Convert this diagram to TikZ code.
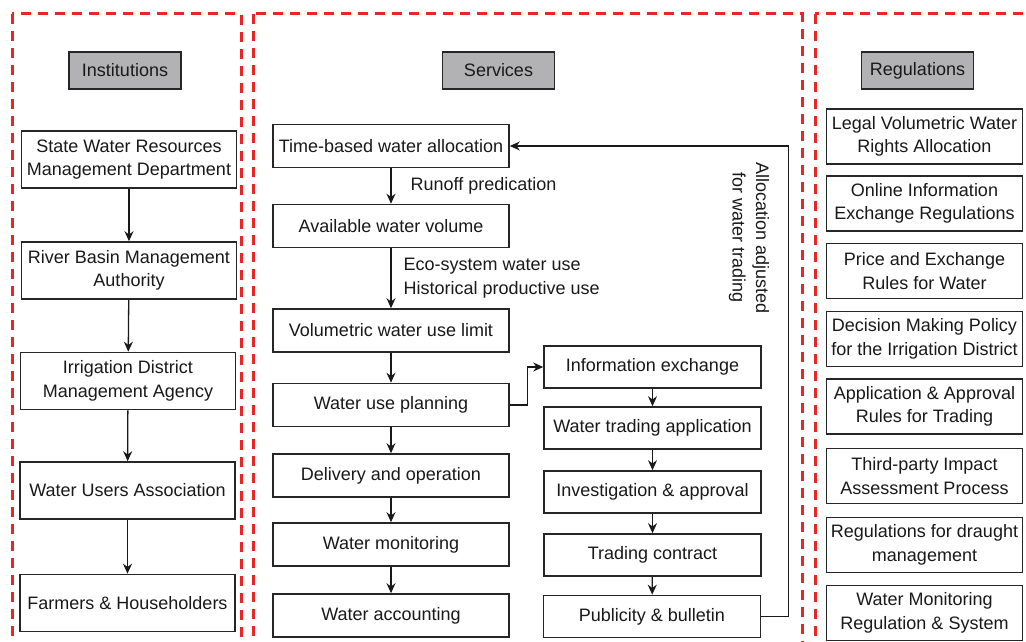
\documentclass[tikz,border=0pt]{standalone}
\usepackage{fontspec}
\setmainfont{Liberation Sans}
\usetikzlibrary{arrows.meta}
\definecolor{regionred}{RGB}{232,38,38}
\definecolor{headgray}{RGB}{178,178,180}
\newcommand{\boxfont}{\fontsize{18}{23.5}\selectfont}
\tikzset{
  region/.style={draw=regionred, line width=3pt, dash pattern=on 10pt off 7pt},
  box/.style={draw=black!85, line width=1.6pt, fill=white, align=center,
              inner sep=0.5pt, font=\boxfont, text=black!90},
  instbox/.style={box, minimum width=215pt, minimum height=57pt},
  servbox/.style={box, minimum width=236pt, minimum height=43pt},
  tradebox/.style={box, minimum width=217pt, minimum height=42pt},
  regbox/.style={box, minimum width=196pt, minimum height=55pt},
  headbox/.style={box, fill=headgray, minimum width=112pt, minimum height=37pt},
  arr/.style={-{Stealth[length=10pt,width=9pt]}, line width=1.3pt, draw=black!90},
  note/.style={font=\boxfont, text=black!90, inner sep=0pt}
}
\begin{document}
\begin{tikzpicture}[x=1pt, y=-1pt]
\useasboundingbox (0,0) rectangle (1026,642);

% dashed column frames
\begin{scope}
  \clip (0,0) rectangle (1026,642);
  \draw[region] (12,14) rectangle (241,670);
  \draw[region] (253,14) rectangle (802,670);
  \draw[region] (815,14) rectangle (1045,670);
\end{scope}

% column headings
\node[headbox] (hInst) at (125,70.5) {Institutions};
\node[headbox] (hServ) at (498.5,70.5) {Services};
\node[headbox] (hReg)  at (917.5,70.5) {Regulations};

% institutions
\node[instbox] (i1) at (129,159.5) {State Water Resources\\Management Department};
\node[instbox] (i2) at (129,270.5) {River Basin Management\\Authority};
\node[instbox] (i3) at (128,381) {Irrigation District\\Management Agency};
\node[instbox] (i4) at (127.5,490.5) {Water Users Association};
\node[instbox] (i5) at (127.5,603) {Farmers \& Householders};
\foreach \a/\b in {i1/i2,i2/i3,i3/i4,i4/i5}
  \draw[arr] (\a) -- (\b);

% services: main chain
\node[servbox] (s1) at (391,146) {Time-based water allocation};
\node[servbox] (s2) at (391,226) {Available water volume};
\node[servbox] (s3) at (391,330.5) {Volumetric water use limit};
\node[servbox] (s4) at (391,405) {Water use planning};
\node[servbox] (s5) at (391,475.5) {Delivery and operation};
\node[servbox] (s6) at (391,544.5) {Water monitoring};
\node[servbox] (s7) at (391,615.5) {Water accounting};

\draw[arr] (s1) -- node[note, anchor=west, xshift=19pt] (runoff) {Runoff predication} (s2);
\draw[arr] (s2) -- node[note, anchor=west, xshift=12pt, align=left] (eco)
  {Eco-system water use\\Historical productive use} (s3);
\foreach \a/\b in {s3/s4,s4/s5,s5/s6,s6/s7}
  \draw[arr] (\a) -- (\b);

% services: trading chain
\node[tradebox] (t1) at (652.5,367) {Information exchange};
\node[tradebox] (t2) at (652.5,428) {Water trading application};
\node[tradebox] (t3) at (652.5,492) {Investigation \& approval};
\node[tradebox] (t4) at (652.5,555) {Trading contract};
\node[tradebox] (t5) at (652,616.5) {Publicity \& bulletin};
\foreach \a/\b in {t1/t2,t2/t3,t3/t4,t4/t5}
  \draw[arr] (\a) -- (\b);

\draw[arr] (s4.east) -- ++(18,0) |- (t1.west);
\draw[arr] (t5.east) -- ++(27,0) |- (s1.east);
\node[note, rotate=-90, align=center] (adj) at (749,238)
  {Allocation adjusted\\for water trading};

% regulations
\node[regbox] (r1) at (924.5,136.5) {Legal Volumetric Water\\Rights Allocation};
\node[regbox] (r2) at (924.5,203.5) {Online Information\\Exchange Regulations};
\node[regbox] (r3) at (924.5,271) {Price and Exchange\\Rules for Water};
\node[regbox] (r4) at (924.5,339) {Decision Making Policy\\for the Irrigation District};
\node[regbox] (r5) at (924.5,406.5) {Application \& Approval\\Rules for Trading};
\node[regbox] (r6) at (924.5,476) {Third-party Impact\\Assessment Process};
\node[regbox] (r7) at (924.5,545) {Regulations for draught\\management};
\node[regbox] (r8) at (924.5,613) {Water Monitoring\\Regulation \& System};
\end{tikzpicture}
\end{document}
